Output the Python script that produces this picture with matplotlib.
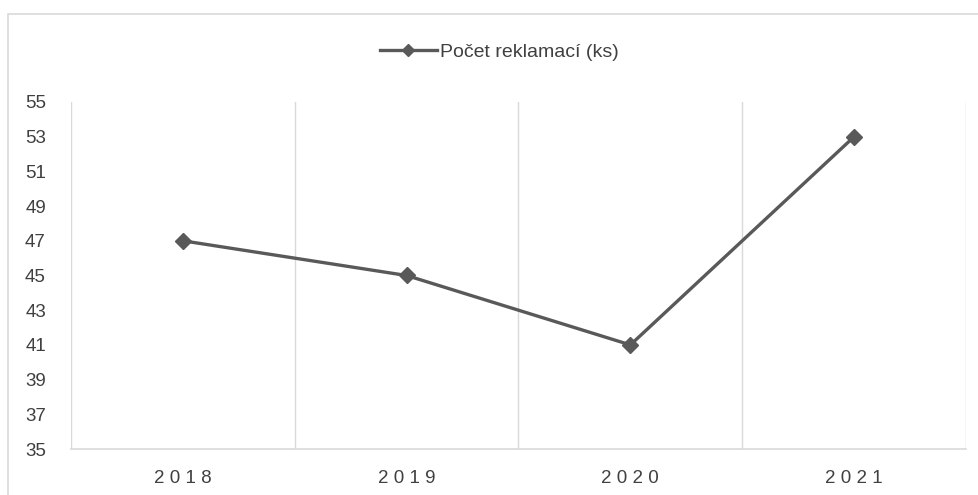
import matplotlib

matplotlib.use("Agg")
import matplotlib.pyplot as plt
import numpy as np
from matplotlib.lines import Line2D
from matplotlib.patches import Rectangle

plt.rcParams["font.family"] = ["Liberation Sans", "DejaVu Sans"]

years = ["2018", "2019", "2020", "2021"]
complaints = [47, 45, 41, 53]
y_ticks = list(range(35, 56, 2))
series_name = "Počet reklamací (ks)"

line_col = "#595959"
text_col = "#404040"
grid = "#d9d9d9"

fig = plt.figure(figsize=(9.79, 4.95), dpi=100)
fig.patch.set_facecolor("white")

# chart frame
fig.patches.append(Rectangle((8 / 979, -0.1), 1.2, 1.1 - 14 / 495, transform=fig.transFigure,
                             fill=False, edgecolor=grid, linewidth=1.2))

ax = fig.add_axes([71 / 979, 1 - 449 / 495, (966 - 71) / 979, (449 - 102) / 495])
x = np.arange(len(years))
ax.plot(x, complaints, color=line_col, linewidth=2.4, marker="D", markersize=8,
        markerfacecolor=line_col, markeredgecolor=line_col)

ax.set_xlim(-0.5, len(years) - 0.5)
ax.set_ylim(35, 55)
ax.set_yticks(y_ticks)
ax.set_xticks(x)
ax.set_xticklabels([" ".join(y) for y in years])
ax.set_xticks(np.arange(-0.5, len(years)), minor=True)
ax.grid(True, which="minor", axis="x", color=grid, linewidth=1)
ax.tick_params(which="both", length=0)
ax.tick_params(axis="y", labelsize=13.5, labelcolor=text_col, pad=18)
ax.tick_params(axis="x", labelsize=13.5, labelcolor=text_col, pad=15)
for side in ["top", "right", "left"]:
    ax.spines[side].set_visible(False)
ax.spines["bottom"].set_color(grid)
ax.spines["bottom"].set_linewidth(1.2)

handle = Line2D([], [], color=line_col, linewidth=2.4, marker="D", markersize=6,
                markerfacecolor=line_col, markeredgecolor=line_col)
fig.legend([handle], [series_name], loc="center", bbox_to_anchor=(0.51, 1 - 52 / 495),
           frameon=False, fontsize=14, labelcolor=text_col, handlelength=2.9,
           handletextpad=0.15)

fig.savefig("out.png", dpi=100)
